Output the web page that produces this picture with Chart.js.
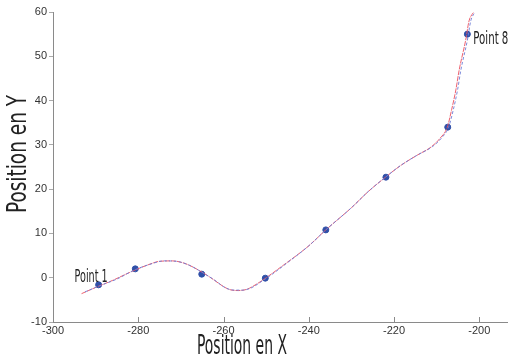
<!DOCTYPE html>
<html lang="fr">
  <head>
    <meta charset="UTF-8" />
    <title>Position en X / Position en Y</title>
    <script src="https://cdn.jsdelivr.net/npm/chart.js"></script>
    <style>
      html, body { margin: 0; padding: 0; background: #ffffff; }
      #wrap { width: 512px; height: 360px; }
    </style>
  </head>
  <body>
    <div id="wrap"><canvas id="traj"></canvas></div>
    <script>
      // measured points (blue dots)
      const pointX = [-289.3, -280.7, -265.1, -250.2, -236.0, -221.9, -207.4, -202.8];
      const pointY = [-1.6, 2.0, 0.8, -0.1, 10.8, 22.7, 34.0, 55.0];

      // red interpolated trajectory
      const redX = [-293.3, -290, -286, -282, -278, -275, -272, -269, -266, -263, -260, -258.5, -256.5, -254.5, -252, -250, -246, -240, -236, -230, -226, -222, -218.5, -214.7, -211.2, -209.2, -207.5, -206.5, -205.5, -204.7, -203.2, -202.4, -201.3];
      const redY = [-3.6, -2.2, -0.6, 1.2, 2.8, 3.7, 3.8, 3.2, 1.8, 0.0, -2.0, -2.7, -2.9, -2.6, -1.3, 0.0, 2.8, 7.2, 10.8, 15.8, 19.5, 22.7, 25.3, 27.6, 29.6, 31.5, 34.0, 37.9, 42.4, 47.0, 53.6, 58.0, 60.0];

      // blue trajectory (almost on top of the red one)
      const blueX = [-292.5, -289, -285, -281, -277, -274, -271, -268, -265, -262, -259.5, -257.5, -255.5, -253.5, -251, -249, -245, -240, -236, -230, -226, -222, -218.5, -214.7, -211.0, -208.9, -207.2, -206.1, -205.1, -204.3, -202.8, -202.0, -201.0];
      const blueY = [-3.2, -1.8, -0.3, 1.7, 3.1, 3.8, 3.7, 2.8, 1.2, -0.6, -2.3, -2.8, -2.8, -2.3, -0.8, 0.5, 3.4, 7.2, 10.8, 15.8, 19.5, 22.7, 25.3, 27.6, 29.6, 31.5, 34.0, 37.9, 42.4, 47.0, 53.6, 58.0, 60.0];

      const xTicks = [-300, -280, -260, -240, -220, -200];
      const pointLabels = ["Point 1", "Point 8"];

      const toXY = (xs, ys) => xs.map((x, i) => ({ x: x, y: ys[i] }));
      const narrow = "'Liberation Sans Narrow', 'DejaVu Sans Condensed', sans-serif";

      // squeezed text, the original uses a very narrow font
      function squeezed(ctx, text, size, width) {
        ctx.font = size + "px " + narrow;
        const w = ctx.measureText(text).width;
        ctx.save();
        ctx.scale(width / w, 1);
        ctx.fillText(text, 0, 0);
        ctx.restore();
      }

      const decorations = {
        id: "decorations",
        afterDraw(chart) {
          const ctx = chart.ctx;
          const xs = chart.scales.x;
          const ys = chart.scales.y;
          const bottom = chart.chartArea.bottom;
          ctx.save();
          // x ticks point inward
          ctx.strokeStyle = "#8a8a8a";
          ctx.lineWidth = 1;
          xTicks.forEach((v) => {
            const px = Math.round(xs.getPixelForValue(v)) + 0.5;
            ctx.beginPath();
            ctx.moveTo(px, bottom);
            ctx.lineTo(px, bottom - 5);
            ctx.stroke();
          });

          ctx.fillStyle = "#222";
          ctx.textBaseline = "alphabetic";
          // point labels
          const p1x = xs.getPixelForValue(pointX[0]);
          const p1y = ys.getPixelForValue(pointY[0]);
          ctx.save();
          ctx.translate(p1x - 24, p1y - 3);
          squeezed(ctx, pointLabels[0], 17, 33);
          ctx.restore();
          const p8x = xs.getPixelForValue(pointX[7]);
          const p8y = ys.getPixelForValue(pointY[7]);
          ctx.save();
          ctx.translate(p8x + 6, p8y + 10);
          squeezed(ctx, pointLabels[1], 17, 35);
          ctx.restore();

          // axis titles
          ctx.textBaseline = "middle";
          ctx.save();
          ctx.translate(197, 347);
          squeezed(ctx, "Position en X", 26, 90);
          ctx.restore();
          ctx.save();
          ctx.translate(19, 213);
          ctx.rotate(-Math.PI / 2);
          squeezed(ctx, "Position en Y", 26, 118);
          ctx.restore();
          ctx.restore();
        },
      };

      new Chart(document.getElementById("traj"), {
        type: "scatter",
        data: {
          datasets: [
            {
              data: toXY(blueX, blueY),
              showLine: true,
              borderColor: "rgba(110, 125, 215, 0.9)",
              borderWidth: 1,
              borderDash: [3, 2],
              pointRadius: 0,
              cubicInterpolationMode: "monotone",
            },
            {
              data: toXY(redX, redY),
              showLine: true,
              borderColor: "rgba(235, 80, 95, 0.9)",
              borderWidth: 1,
              borderDash: [5, 1],
              pointRadius: 0,
              cubicInterpolationMode: "monotone",
            },
            {
              data: toXY(pointX, pointY),
              showLine: false,
              pointRadius: 3,
              pointBackgroundColor: "#3050a8",
              pointBorderColor: "#3050a8",
            },
          ],
        },
        options: {
          responsive: true,
          maintainAspectRatio: false,
          animation: false,
          layout: { padding: { top: 12, right: 0, left: 0, bottom: 0 } },
          plugins: { legend: { display: false }, tooltip: { enabled: false } },
          scales: {
            x: {
              type: "linear",
              min: -300,
              max: -193.5,
              afterFit: (s) => { s.height = 38; },
              border: { color: "#8a8a8a" },
              grid: { display: true, drawOnChartArea: false, drawTicks: false },
              ticks: {
                stepSize: 20,
                includeBounds: false,
                maxRotation: 0,
                padding: 2,
                color: "#333",
                font: { family: "'Liberation Sans', Arial", size: 11 },
              },
            },
            y: {
              min: -10,
              max: 60,
              afterFit: (s) => { s.width = 53; },
              border: { color: "#8a8a8a" },
              grid: { drawOnChartArea: false, tickLength: 4, color: "#aaa" },
              ticks: {
                stepSize: 10,
                padding: 2,
                color: "#333",
                font: { family: "'Liberation Sans', Arial", size: 11 },
              },
            },
          },
        },
        plugins: [decorations],
      });
    </script>
  </body>
</html>
